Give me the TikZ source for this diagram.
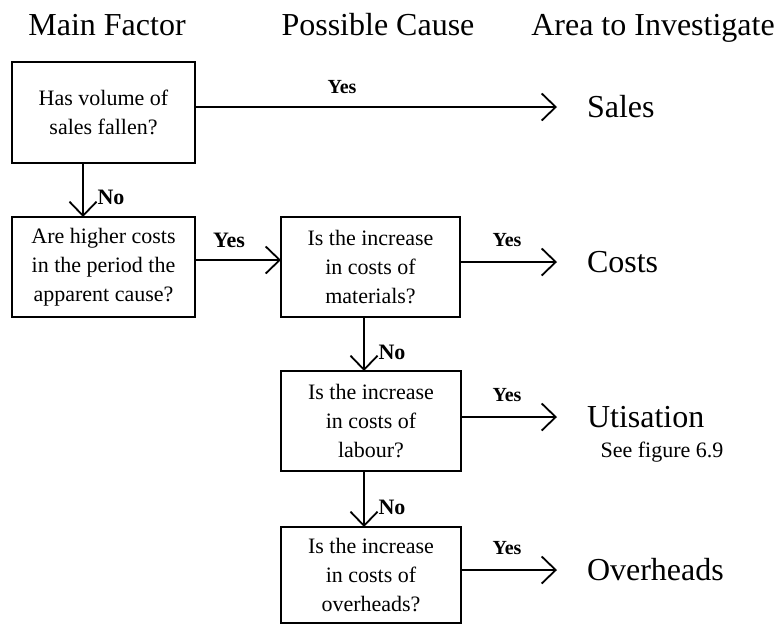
\documentclass[tikz,border=0pt]{standalone}
\usepackage{fontspec}
\setmainfont{Liberation Serif}
\usetikzlibrary{arrows.meta}
\begin{document}
\begin{tikzpicture}[x=1pt,y=-1pt,
  qbox/.style={draw, line width=1.8pt, minimum width=180pt, minimum height=100pt,
    align=center, inner sep=0pt, outer sep=0pt, font=\fontsize{22}{29}\selectfont},
  head/.style={font=\fontsize{32}{38}\selectfont, inner sep=0pt, anchor=base},
  target/.style={font=\fontsize{32}{38}\selectfont, anchor=west, inner xsep=30pt,
    inner ysep=0pt, outer sep=0pt},
  lbl/.style={font=\bfseries\fontsize{20}{24}\selectfont, inner sep=0pt},
  nolbl/.style={font=\bfseries\fontsize{22}{26}\selectfont, inner sep=0pt},
  note/.style={font=\fontsize{22}{26}\selectfont, inner sep=0pt},
  arr/.style={line width=1.8pt, -{Straight Barb[length=14pt,width=27pt]}}
]
\useasboundingbox (0,0) rectangle (783,625);

% column headings
\node[head] (h1) at (107,35) {Main Factor};
\node[head] (h2) at (378,35) {Possible Cause};
\node[head] (h3) at (653,35) {Area to Investigate};

% question boxes
\node[qbox, minimum width=183pt, minimum height=101pt] (b1) at (103.5,112.5)
  {Has volume of\\sales fallen?};
\node[qbox, minimum width=183pt] (b2) at (103.5,267)
  {Are higher costs\\in the period the\\apparent cause?};
\node[qbox, minimum width=179pt] (b3) at (370.5,267)
  {Is the increase\\in costs of\\materials?};
\node[qbox] (b4) at (371,421)
  {Is the increase\\in costs of\\labour?};
\node[qbox, minimum height=96pt] (b5) at (371,575)
  {Is the increase\\in costs of\\overheads?};

% areas to investigate
\node[target] (sales) at (557,107) {Sales};
\node[target] (costs) at (557,262) {Costs};
\node[target] (util)  at (557,417) {Utisation};
\node[target] (over)  at (557,570) {Overheads};
\node[note] (see) at (662,452) {See figure 6.9};

% connectors
\draw[arr] (b1.east |- sales.west) -- (sales.west);
\draw[arr] ([xshift=-20.5pt]b1.south) -- ([xshift=-20.5pt]b2.north);
\draw[arr] ([yshift=7pt]b2.east) -- ([yshift=7pt]b3.west);
\draw[arr] (b3.east |- costs.west) -- (costs.west);
\draw[arr] ([xshift=-6.5pt]b3.south) -- ([xshift=-7pt]b4.north);
\draw[arr] (b4.east |- util.west) -- (util.west);
\draw[arr] ([xshift=-7pt]b4.south) -- ([xshift=-7pt]b5.north);
\draw[arr] (b5.east |- over.west) -- (over.west);

% branch labels
\node[lbl] (y1) at (342,87) {Yes};
\node[lbl, font=\bfseries\fontsize{22}{26}\selectfont] (y2) at (229,240) {Yes};
\node[lbl] (y3) at (507,240) {Yes};
\node[lbl] (y4) at (507,395) {Yes};
\node[lbl] (y5) at (507,548) {Yes};
\node[nolbl] (n1) at (111,197) {No};
\node[nolbl] (n2) at (392,352) {No};
\node[nolbl] (n3) at (392,507) {No};
\end{tikzpicture}
\end{document}
